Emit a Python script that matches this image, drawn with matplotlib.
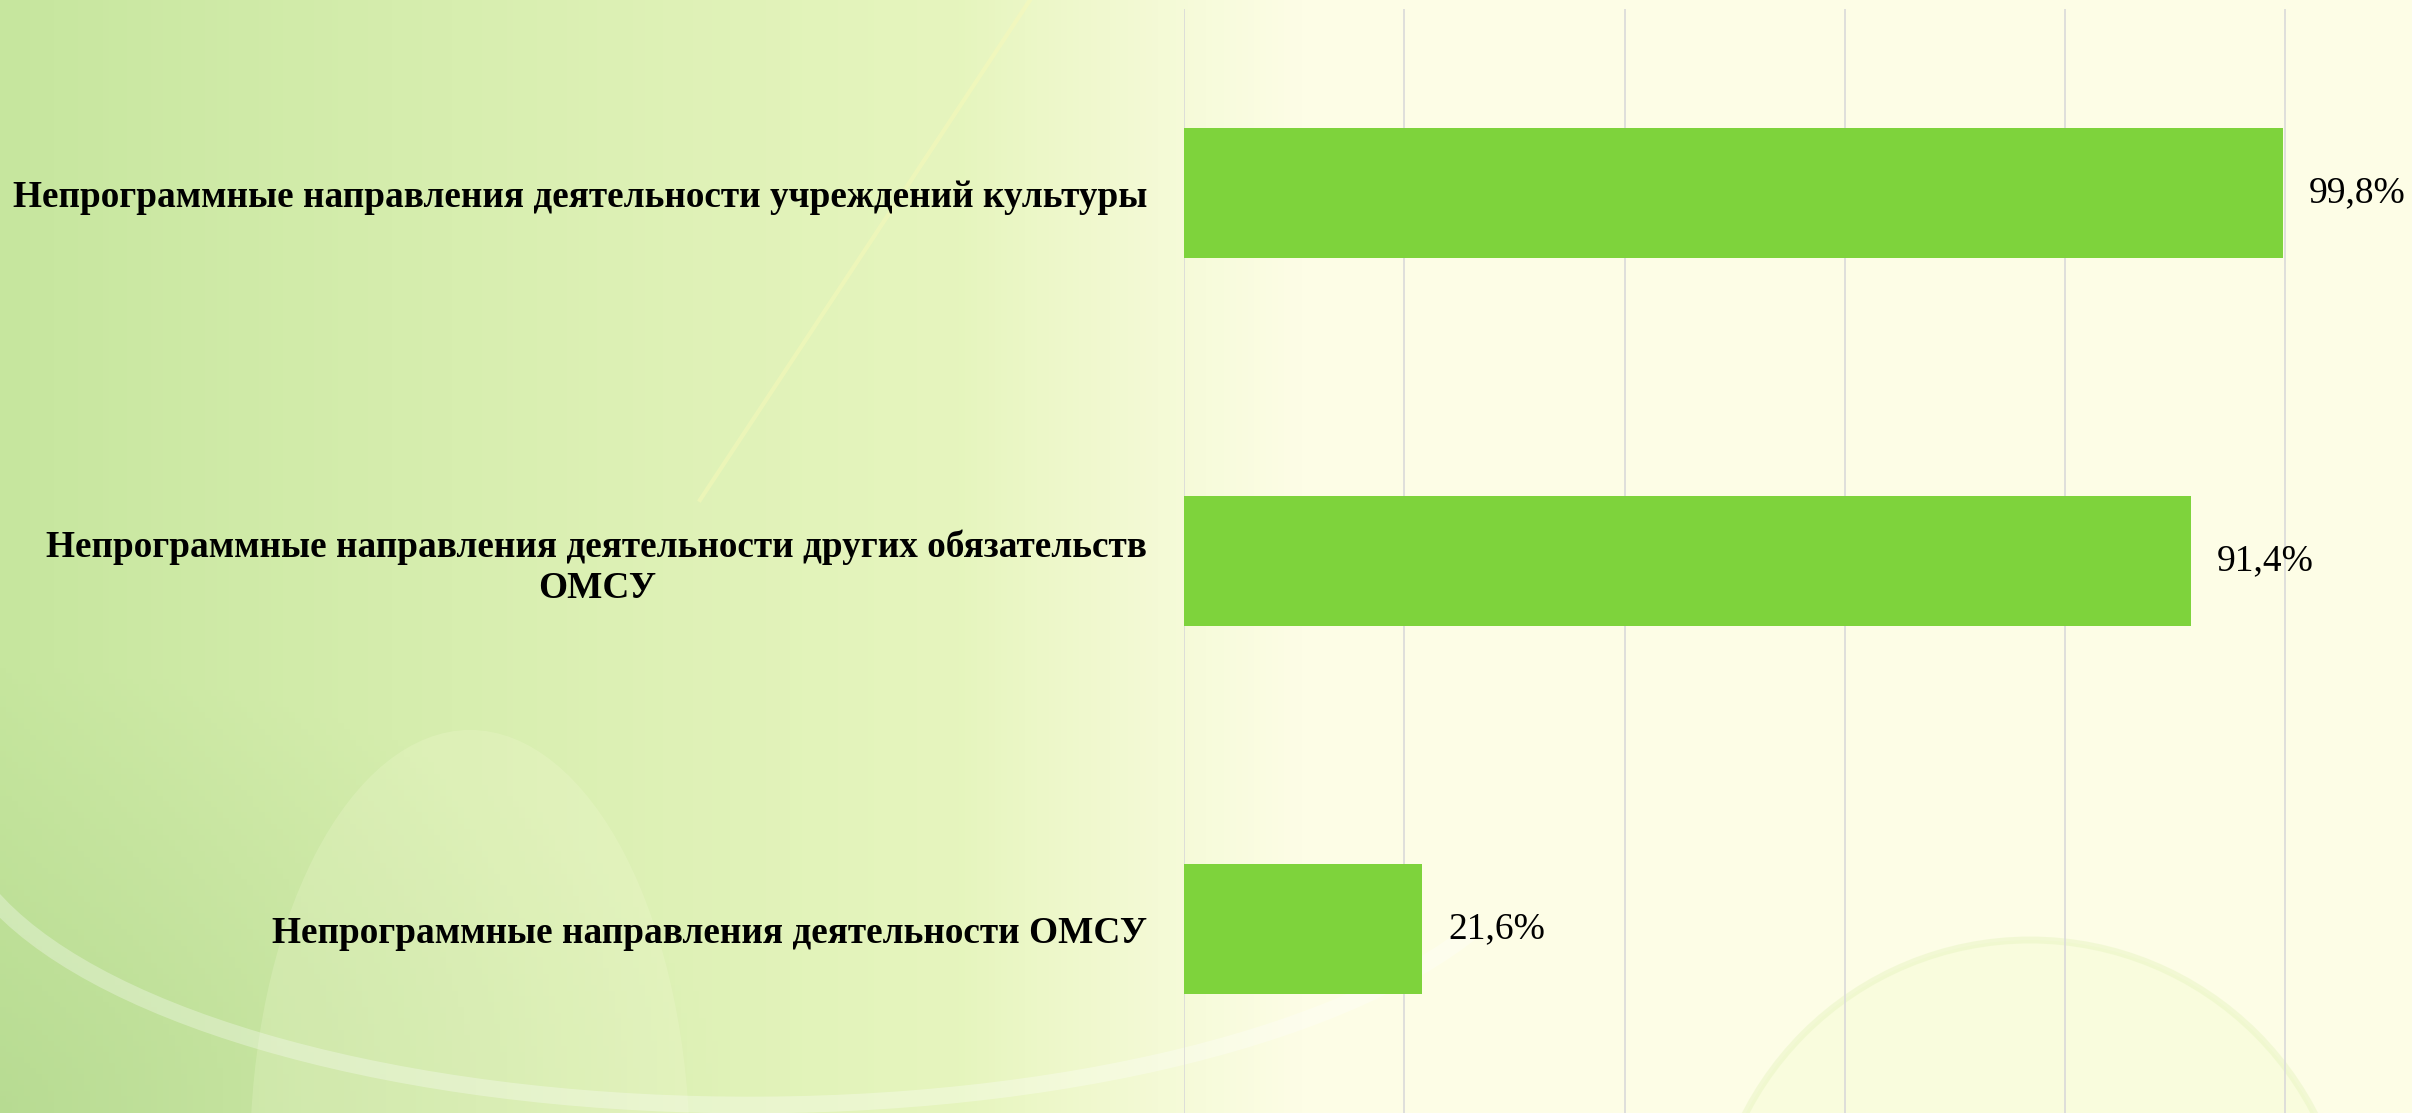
import numpy as np
import matplotlib.pyplot as plt
from matplotlib.patches import Ellipse, Arc, Circle

# data, top to bottom as shown
categories = [
    'Непрограммные направления деятельности учреждений культуры',
    'Непрограммные направления деятельности других обязательств\nОМСУ',
    'Непрограммные направления деятельности ОМСУ',
]
values = [99.8, 91.4, 21.6]
value_labels = ['99,8%', '91,4%', '21,6%']

W, H = 2412, 1113
fig = plt.figure(figsize=(W / 100, H / 100), dpi=100)

# soft green-to-cream background, roughly like the slide
bg = fig.add_axes([0, 0, 1, 1], zorder=0)
bg.axis('off')
yy, xx = np.mgrid[0:1:200j, 0:1:400j]
left = np.array([198, 230, 158]) / 255
mid = np.array([232, 246, 192]) / 255
right = np.array([253, 253, 230]) / 255
t = np.clip(xx / 0.45, 0, 1)[..., None]
img = left * (1 - t) ** 1.3 + mid * (1 - (1 - t) ** 1.3)
t2 = np.clip((xx - 0.40) / 0.14, 0, 1)[..., None]
img = img * (1 - t2) + right * t2
# darker green bottom-left corner
d = np.clip(1 - np.hypot(xx / 0.3, (1 - yy) / 0.4), 0, 1)[..., None]
img = img * (1 - 0.3 * d) + np.array([150, 195, 120]) / 255 * 0.3 * d
bg.imshow(img, aspect='auto', extent=[0, W, H, 0], origin='upper')

# faint decorative shapes
bg.add_patch(Ellipse((470, 1160), 440, 860, color='#f6fbd8', alpha=0.22, lw=0))
bg.add_patch(Arc((750, 800), 1600, 610, theta1=10, theta2=173,
                 color='white', alpha=0.3, lw=12))
bg.add_patch(Circle((2030, 1260), 320, color='#f4fbd0', alpha=0.4, lw=0))
bg.add_patch(Circle((2030, 1260), 320, fill=False, color='#e6f4c0',
                    alpha=0.45, lw=5))
bg.plot([1030, 700], [0, 500], color='#fafab8', lw=3, alpha=0.45)
bg.set_xlim(0, W)
bg.set_ylim(H, 0)

ax_left = 1184 / W
ax = fig.add_axes([ax_left, 0, 1 - ax_left, (H - 9) / H], zorder=1)
ax.patch.set_alpha(0)

y = np.arange(len(categories))
ax.barh(y, values, height=0.353, color='#7ED33C', zorder=2)
ax.set_ylim(len(categories) - 0.5, -0.5)
ax.set_xlim(0, 111.5)

ax.set_xticks(np.arange(0, 120, 20))
ax.xaxis.grid(True, color='#D9D9D9', linewidth=1.2)
ax.set_axisbelow(True)
ax.tick_params(axis='x', bottom=False, labelbottom=False)
for s in ax.spines.values():
    s.set_visible(False)

ax.set_yticks(y)
ax.set_yticklabels(categories, fontfamily='Liberation Serif',
                   fontweight='bold', fontsize=26.8)
ax.tick_params(axis='y', left=False, pad=23)
for lab in ax.get_yticklabels():
    lab.set_multialignment('center')

for yi, v, lab in zip(y, values, value_labels):
    ax.annotate(lab, (v, yi), xytext=(26, 0), textcoords='offset pixels',
                va='center', ha='left', fontsize=27,
                fontfamily='Liberation Serif', color='black')

fig.savefig('out.png', dpi=100)
